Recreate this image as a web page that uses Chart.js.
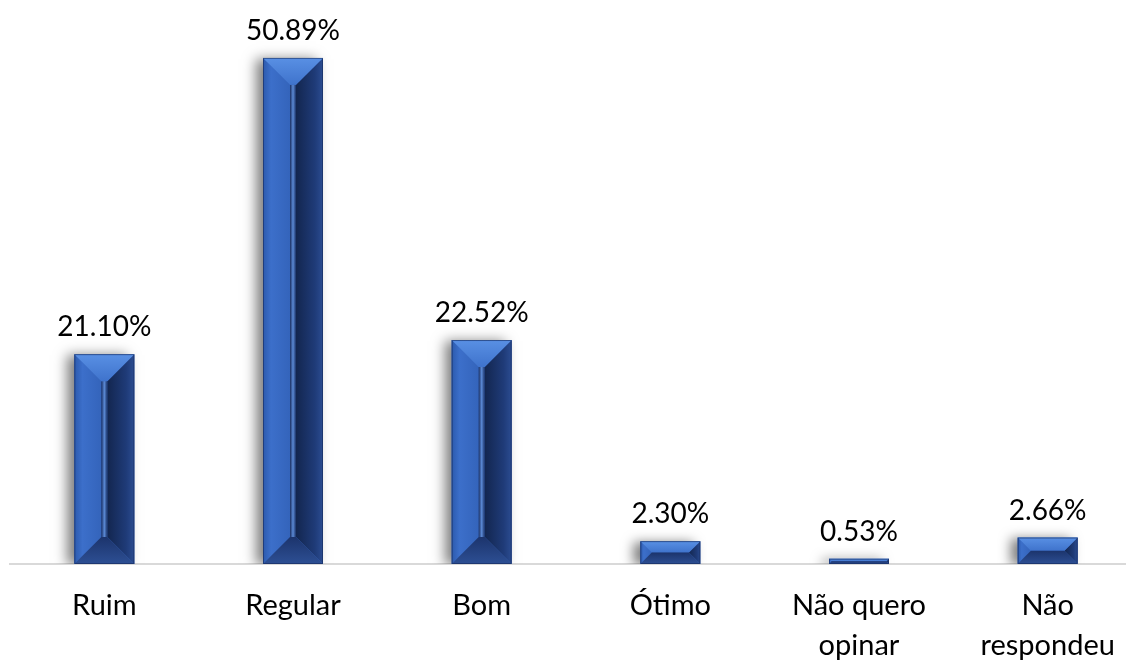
<!DOCTYPE html>
<html>
<head>
<meta charset="utf-8">
<script src="https://cdn.jsdelivr.net/npm/chart.js@4.4.1/dist/chart.umd.min.js"></script>
<style>
  html, body { margin: 0; padding: 0; background: #ffffff; overflow: hidden; }
  #wrap { width: 1142px; height: 660px; position: relative; }
</style>
</head>
<body>
<div id="wrap"><canvas id="c" width="1142" height="660"></canvas></div>
<script>
const categories = ['Ruim', 'Regular', 'Bom', 'Ótimo', ['Não quero', 'opinar'], ['Não', 'respondeu']];
const values = [21.10, 50.89, 22.52, 2.30, 0.53, 2.66];
const valueLabels = ['21.10%', '50.89%', '22.52%', '2.30%', '0.53%', '2.66%'];

const FONT = 'Lato, "Open Sans", sans-serif';

const shadowPlugin = {
  id: 'shadowPlugin',
  beforeDatasetsDraw(chart) {
    const ctx = chart.ctx;
    ctx.save();
    ctx.shadowColor = 'rgba(0,0,0,0.5)';
    ctx.shadowBlur = 12;
    ctx.shadowOffsetX = -7;
    ctx.shadowOffsetY = 1;
  },
  afterDatasetsDraw(chart) {
    const ctx = chart.ctx;
    ctx.restore();
    const meta = chart.getDatasetMeta(0);
    meta.data.forEach((el, i) => {
      const p = el.getProps(['x', 'y', 'base', 'width'], true);
      const x0 = p.x - p.width / 2, x1 = p.x + p.width / 2;
      const y0 = Math.min(p.y, p.base), y1 = Math.max(p.y, p.base);
      const h = y1 - y0;
      const b = Math.min(p.width / 2 * 0.9, h / 2);
      // left facet
      let g = ctx.createLinearGradient(x0, 0, x0 + b, 0);
      g.addColorStop(0, '#2c5aad');
      g.addColorStop(0.3, '#3c6fca');
      g.addColorStop(1, '#3464bb');
      ctx.fillStyle = g;
      ctx.beginPath();
      ctx.moveTo(x0, y0); ctx.lineTo(x0 + b, y0 + b); ctx.lineTo(x0 + b, y1 - b); ctx.lineTo(x0, y1); ctx.closePath();
      ctx.fill();
      // right facet
      g = ctx.createLinearGradient(x1 - b, 0, x1, 0);
      g.addColorStop(0, '#13264f');
      g.addColorStop(0.7, '#1f3b78');
      g.addColorStop(1, '#2b4c91');
      ctx.fillStyle = g;
      ctx.beginPath();
      ctx.moveTo(x1, y0); ctx.lineTo(x1 - b, y0 + b); ctx.lineTo(x1 - b, y1 - b); ctx.lineTo(x1, y1); ctx.closePath();
      ctx.fill();
      // center strip
      if (y1 - b > y0 + b) {
        g = ctx.createLinearGradient(x0 + b, 0, x1 - b, 0);
        g.addColorStop(0, '#1a2f62');
        g.addColorStop(0.5, '#5b8ad6');
        g.addColorStop(1, '#1b3266');
        ctx.fillStyle = g;
        ctx.fillRect(x0 + b, y0 + b, x1 - x0 - 2 * b, y1 - y0 - 2 * b);
      }
      // top facet
      g = ctx.createLinearGradient(0, y0, 0, y0 + b);
      g.addColorStop(0, '#5990e4');
      g.addColorStop(1, '#3f73cc');
      ctx.fillStyle = g;
      ctx.beginPath();
      ctx.moveTo(x0, y0); ctx.lineTo(x1, y0); ctx.lineTo(x1 - b, y0 + b); ctx.lineTo(x0 + b, y0 + b); ctx.closePath();
      ctx.fill();
      // bottom facet
      g = ctx.createLinearGradient(0, y1 - b, 0, y1);
      g.addColorStop(0, '#1c346c');
      g.addColorStop(1, '#2d4f94');
      ctx.fillStyle = g;
      ctx.beginPath();
      ctx.moveTo(x0, y1); ctx.lineTo(x1, y1); ctx.lineTo(x1 - b, y1 - b); ctx.lineTo(x0 + b, y1 - b); ctx.closePath();
      ctx.fill();
      // outline
      ctx.strokeStyle = 'rgba(20,40,90,0.6)';
      ctx.lineWidth = 1;
      ctx.strokeRect(x0 + 0.5, y0 + 0.5, p.width - 1, h - 1);
      // value label
      ctx.fillStyle = '#000000';
      ctx.font = '28px ' + FONT;
      ctx.textAlign = 'center';
      ctx.textBaseline = 'alphabetic';
      ctx.fillText(valueLabels[i], p.x, y0 - 18);
    });
  }
};

new Chart(document.getElementById('c'), {
  type: 'bar',
  data: {
    labels: categories,
    datasets: [{
      data: values,
      backgroundColor: '#3566bd',
      borderWidth: 0,
      barPercentage: 0.318,
      categoryPercentage: 1.0
    }]
  },
  options: {
    responsive: false,
    animation: false,
    devicePixelRatio: 1,
    layout: { padding: { left: 10, right: 0, top: 17, bottom: 0 } },
    plugins: { legend: { display: false }, tooltip: { enabled: false } },
    scales: {
      y: { display: false, min: 0, max: 55 },
      x: {
        grid: { display: false, drawTicks: false },
        border: { display: true, color: '#d9d9d9', width: 2 },
        ticks: {
          color: '#000000',
          font: { family: FONT, size: 29, lineHeight: 1.4 },
          padding: 21,
          maxRotation: 0,
          autoSkip: false
        },
        afterFit(scale) { scale.height = 96; }
      }
    }
  },
  plugins: [shadowPlugin]
});
</script>
</body>
</html>
